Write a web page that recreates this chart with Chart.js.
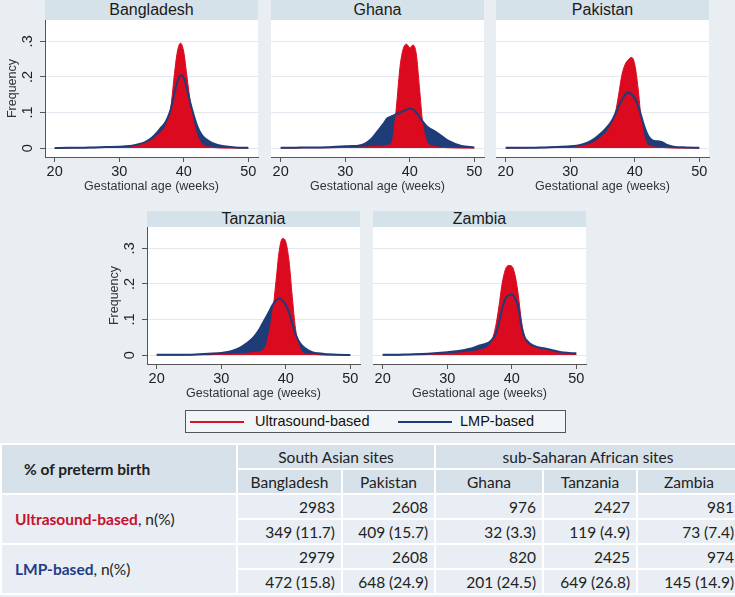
<!DOCTYPE html>
<html>
<head>
<meta charset="utf-8">
<script src="https://cdn.jsdelivr.net/npm/chart.js@4.4.1/dist/chart.umd.min.js"></script>
<style>
    html, body { margin: 0; padding: 0; }
    body {
        width: 735px; height: 597px; overflow: hidden; position: relative;
        background: #e8eef2; font-family: "Liberation Sans", Arial, sans-serif;
    }
    .strip {
        position: absolute; background: #d6e2ea; color: #1a1a1a;
        font-size: 16px; text-align: center; white-space: nowrap;
    }
    .panel { position: absolute; }
    #legend {
        position: absolute; left: 185px; top: 410px; width: 379px; height: 21px;
        border: 1px solid #555; background: #f1f5f7; font-size: 14.5px; color: #111;
    }
    #legend .key { position: absolute; top: 10px; height: 2px; width: 54px; }
    #legend .lbl { position: absolute; top: 2px; line-height: 17px; }
    #preterm {
        position: absolute; left: 0; top: 443px; width: 740px;
        border-collapse: collapse; table-layout: fixed;
        font-family: Lato, "Open Sans", sans-serif; font-size: 15.5px; color: #222;
    }
    #preterm th, #preterm td { border: 2px solid #fff; padding: 0; height: 23px; white-space: nowrap; }
    #preterm th { background: #d6e1ea; font-weight: normal; text-align: center; }
    #preterm td { background: #e8eef3; text-align: right; padding-right: 6px; }
    #preterm .rowhead { text-align: left; padding-left: 13px; }
    #preterm th.rowhead { font-weight: bold; padding-left: 22px; }
</style>
</head>
<body>
<div id="figure"></div>
<div id="legend">
    <div class="key" style="left:4px; background:#d8102a;"></div>
    <div class="lbl" style="left:69px;">Ultrasound-based</div>
    <div class="key" style="left:212px; background:#1d3c78;"></div>
    <div class="lbl" style="left:274px;">LMP-based</div>
</div>
<table id="preterm"></table>
<script>
// gestational age grid (weeks)
const ages = [20, 22, 24, 26, 28, 30, 31, 32, 33, 34, 35, 36, 36.5, 37, 37.5, 38, 38.5, 39, 39.5,
              40, 40.5, 41, 41.5, 42, 42.5, 43, 44, 45, 46, 48, 50];

// density curves, ultrasound-based and LMP-based
const usBangladesh  = [0, 0, 0.001, 0.001, 0.002, 0.003, 0.004, 0.006, 0.009, 0.014, 0.022, 0.036, 0.045, 0.056, 0.078, 0.115, 0.2, 0.27, 0.295,
                       0.27, 0.2, 0.13, 0.075, 0.04, 0.02, 0.008, 0.003, 0.001, 0, 0, 0];
const lmpBangladesh = [0, 0.001, 0.001, 0.002, 0.003, 0.004, 0.005, 0.007, 0.011, 0.017, 0.028, 0.047, 0.058, 0.068, 0.085, 0.11, 0.15, 0.185, 0.205,
                       0.198, 0.165, 0.128, 0.095, 0.066, 0.045, 0.032, 0.018, 0.01, 0.006, 0.002, 0.001];
const usGhana       = [0, 0, 0.001, 0.001, 0.001, 0.002, 0.002, 0.003, 0.003, 0.004, 0.005, 0.006, 0.008, 0.01, 0.04, 0.13, 0.23, 0.28, 0.292,
                       0.282, 0.29, 0.265, 0.17, 0.07, 0.025, 0.01, 0.004, 0.002, 0.001, 0, 0];
const lmpGhana      = [0.001, 0.001, 0.002, 0.002, 0.003, 0.005, 0.006, 0.007, 0.012, 0.025, 0.047, 0.07, 0.083, 0.088, 0.092, 0.096, 0.1, 0.104, 0.108,
                       0.111, 0.109, 0.1, 0.088, 0.075, 0.064, 0.056, 0.046, 0.033, 0.02, 0.006, 0.002];
const usPakistan    = [0, 0, 0.001, 0.001, 0.002, 0.003, 0.004, 0.007, 0.011, 0.02, 0.035, 0.055, 0.075, 0.1, 0.15, 0.205, 0.235, 0.248, 0.255,
                       0.235, 0.17, 0.08, 0.03, 0.01, 0.005, 0.003, 0.002, 0.001, 0, 0, 0];
const lmpPakistan   = [0.001, 0.001, 0.001, 0.002, 0.003, 0.005, 0.007, 0.011, 0.018, 0.03, 0.045, 0.065, 0.078, 0.097, 0.117, 0.135, 0.15, 0.156, 0.152,
                       0.14, 0.12, 0.09, 0.06, 0.037, 0.025, 0.02, 0.018, 0.009, 0.004, 0.002, 0.001];
const usTanzania    = [0, 0, 0, 0.001, 0.001, 0.002, 0.002, 0.003, 0.004, 0.005, 0.007, 0.01, 0.015, 0.03, 0.07, 0.125, 0.21, 0.295, 0.328,
                       0.318, 0.265, 0.165, 0.075, 0.03, 0.01, 0.004, 0.002, 0.001, 0, 0, 0];
const lmpTanzania   = [0.001, 0.001, 0.001, 0.002, 0.004, 0.006, 0.009, 0.014, 0.022, 0.034, 0.05, 0.075, 0.092, 0.108, 0.125, 0.142, 0.154, 0.159, 0.153,
                       0.14, 0.12, 0.09, 0.06, 0.04, 0.027, 0.019, 0.009, 0.005, 0.003, 0.001, 0];
const usZambia      = [0, 0, 0.001, 0.001, 0.002, 0.004, 0.005, 0.006, 0.008, 0.01, 0.014, 0.02, 0.028, 0.045, 0.08, 0.135, 0.2, 0.24, 0.252,
                       0.25, 0.225, 0.17, 0.095, 0.05, 0.031, 0.024, 0.02, 0.016, 0.013, 0.006, 0.002];
const lmpZambia     = [0.001, 0.001, 0.002, 0.003, 0.005, 0.008, 0.01, 0.012, 0.016, 0.02, 0.027, 0.032, 0.036, 0.045, 0.058, 0.09, 0.13, 0.158, 0.168,
                       0.17, 0.16, 0.135, 0.08, 0.05, 0.038, 0.03, 0.022, 0.019, 0.015, 0.007, 0.005];

const xTicks = [20, 30, 40, 50];
const yTicks = [0, 0.1, 0.2, 0.3];
const yTickLabels = ['0', '.1', '.2', '.3'];

// table of preterm births
const groupNames = ['South Asian sites', 'sub-Saharan African sites'];
const tableSites = ['Bangladesh', 'Pakistan', 'Ghana', 'Tanzania', 'Zambia'];
const usTotal = [2983, 2608, 976, 2427, 981];
const usPretermN = [349, 409, 32, 119, 73];
const usPretermPct = [11.7, 15.7, 3.3, 4.9, 7.4];
const lmpTotal = [2979, 2608, 820, 2425, 974];
const lmpPretermN = [472, 648, 201, 649, 145];
const lmpPretermPct = [15.8, 24.9, 24.5, 26.8, 14.9];

const RED = '#dc0a1e';
const NAVY = '#1d3c78';

const panels = [
    { name: 'Bangladesh', us: usBangladesh, lmp: lmpBangladesh, left: 45,  top: 20,  stripTop: 0,   stripH: 20, axis: true },
    { name: 'Ghana',      us: usGhana,      lmp: lmpGhana,      left: 271, top: 20,  stripTop: 0,   stripH: 20, axis: false },
    { name: 'Pakistan',   us: usPakistan,   lmp: lmpPakistan,   left: 496, top: 20,  stripTop: 0,   stripH: 20, axis: false },
    { name: 'Tanzania',   us: usTanzania,   lmp: lmpTanzania,   left: 147, top: 227, stripTop: 211, stripH: 16, axis: true },
    { name: 'Zambia',     us: usZambia,     lmp: lmpZambia,     left: 373, top: 227, stripTop: 211, stripH: 16, axis: false }
];

const PLOT_W = 213, PLOT_H = 137, Y_AXIS_W = 45, X_AXIS_H = 37, PAD_R = 12;

const plotBg = {
    id: 'plotBg',
    beforeDraw(chart) {
        const { ctx, chartArea: a } = chart;
        ctx.save();
        ctx.fillStyle = '#ffffff';
        ctx.fillRect(a.left, a.top, a.right - a.left, a.bottom - a.top);
        ctx.restore();
    },
    afterDraw(chart, args, opts) {
        if (!opts.showLabels) return;
        const { ctx } = chart;
        const yScale = chart.scales.y;
        ctx.save();
        ctx.fillStyle = '#222';
        ctx.font = '14.5px "Liberation Sans", Arial, sans-serif';
        ctx.textAlign = 'center';
        ctx.textBaseline = 'middle';
        yTicks.forEach((v, i) => {
            const py = yScale.getPixelForValue(v);
            ctx.save();
            ctx.translate(yScale.right - 17.5, py);
            ctx.rotate(-Math.PI / 2);
            ctx.fillText(yTickLabels[i], 0, 0);
            ctx.restore();
        });
        ctx.restore();
    }
};

function toPoints(vals) {
    return ages.map((a, i) => ({ x: a, y: vals[i] }));
}

const figure = document.getElementById('figure');

panels.forEach(p => {
    const strip = document.createElement('div');
    strip.className = 'strip';
    strip.style.left = p.left + 'px';
    strip.style.top = p.stripTop + 'px';
    strip.style.width = PLOT_W + 'px';
    strip.style.height = p.stripH + 'px';
    strip.style.lineHeight = p.stripH + 'px';
    strip.textContent = p.name;
    figure.appendChild(strip);

    const box = document.createElement('div');
    box.className = 'panel';
    const w = Y_AXIS_W + PLOT_W + PAD_R;
    const h = PLOT_H + X_AXIS_H;
    box.style.left = (p.left - Y_AXIS_W) + 'px';
    box.style.top = p.top + 'px';
    box.style.width = w + 'px';
    box.style.height = h + 'px';
    const canvas = document.createElement('canvas');
    canvas.width = w;
    canvas.height = h;
    box.appendChild(canvas);
    figure.appendChild(box);

    new Chart(canvas.getContext('2d'), {
        type: 'line',
        data: {
            datasets: [
                { label: 'LMP-based', data: toPoints(p.lmp), borderColor: NAVY, borderWidth: 2, fill: false, order: 0 },
                { label: 'Ultrasound-based', data: toPoints(p.us), borderColor: RED, backgroundColor: RED, borderWidth: 1, fill: 'origin', order: 1 },
                { label: 'LMP-based area', data: toPoints(p.lmp), borderColor: 'rgba(0,0,0,0)', backgroundColor: NAVY, borderWidth: 0, fill: 'origin', order: 2 }
            ]
        },
        options: {
            responsive: false,
            animation: false,
            events: [],
            layout: { padding: { left: 0, right: PAD_R, top: 0, bottom: 0 } },
            elements: {
                point: { radius: 0 },
                line: { cubicInterpolationMode: 'monotone' }
            },
            scales: {
                x: {
                    type: 'linear',
                    min: 18.5,
                    max: 51.5,
                    afterBuildTicks: s => { s.ticks = xTicks.map(v => ({ value: v })); },
                    afterFit: s => { s.height = X_AXIS_H; },
                    grid: { drawOnChartArea: false, drawTicks: true, tickLength: 5, tickColor: '#555' },
                    border: { display: true, color: '#555', width: 1 },
                    ticks: {
                        padding: 1,
                        color: '#222',
                        font: { family: '"Liberation Sans", Arial, sans-serif', size: 14.5 }
                    },
                    title: {
                        display: true,
                        text: 'Gestational age (weeks)',
                        color: '#333',
                        padding: 0,
                        font: { family: '"Liberation Sans", Arial, sans-serif', size: 12.5 }
                    }
                },
                y: {
                    min: -0.025,
                    max: 0.36,
                    afterBuildTicks: s => { s.ticks = yTicks.map(v => ({ value: v })); },
                    afterFit: s => { s.width = Y_AXIS_W; },
                    grid: { color: '#e3e9ee', lineWidth: 1, drawTicks: p.axis, tickLength: 5, tickColor: '#555' },
                    border: { display: p.axis, color: '#555', width: 1 },
                    ticks: { display: false },
                    title: {
                        display: p.axis,
                        text: 'Frequency',
                        color: '#333',
                        padding: { top: 5, bottom: 0 },
                        font: { family: '"Liberation Sans", Arial, sans-serif', size: 12.5 }
                    }
                }
            },
            plugins: {
                legend: { display: false },
                tooltip: { enabled: false },
                plotBg: { showLabels: p.axis }
            }
        },
        plugins: [plotBg]
    });
});

// table
function cell(tag, text, opts = {}) {
    const el = document.createElement(tag);
    if (opts.html) el.innerHTML = opts.html; else el.textContent = text;
    if (opts.rowSpan) el.rowSpan = opts.rowSpan;
    if (opts.colSpan) el.colSpan = opts.colSpan;
    if (opts.cls) el.className = opts.cls;
    return el;
}

const table = document.getElementById('preterm');
const colgroup = document.createElement('colgroup');
[236, 105, 93, 108, 94, 104].forEach(wd => {
    const c = document.createElement('col');
    c.style.width = wd + 'px';
    colgroup.appendChild(c);
});
table.appendChild(colgroup);

const r1 = table.insertRow();
r1.appendChild(cell('th', '% of preterm birth', { rowSpan: 2, cls: 'rowhead' }));
r1.appendChild(cell('th', groupNames[0], { colSpan: 2 }));
r1.appendChild(cell('th', groupNames[1], { colSpan: 3 }));

const r2 = table.insertRow();
tableSites.forEach(s => r2.appendChild(cell('th', s)));

function addBlock(labelHtml, totals, nArr, pctArr) {
    const ra = table.insertRow();
    ra.appendChild(cell('td', '', { rowSpan: 2, cls: 'rowhead', html: labelHtml }));
    totals.forEach(v => ra.appendChild(cell('td', String(v))));
    const rb = table.insertRow();
    nArr.forEach((n, i) => rb.appendChild(cell('td', n + ' (' + pctArr[i].toFixed(1) + ')')));
}

addBlock('<b style="color:#c8102e">Ultrasound-based</b>, n(%)', usTotal, usPretermN, usPretermPct);
addBlock('<b style="color:#1f3c88">LMP-based</b>, n(%)', lmpTotal, lmpPretermN, lmpPretermPct);
</script>
</body>
</html>
